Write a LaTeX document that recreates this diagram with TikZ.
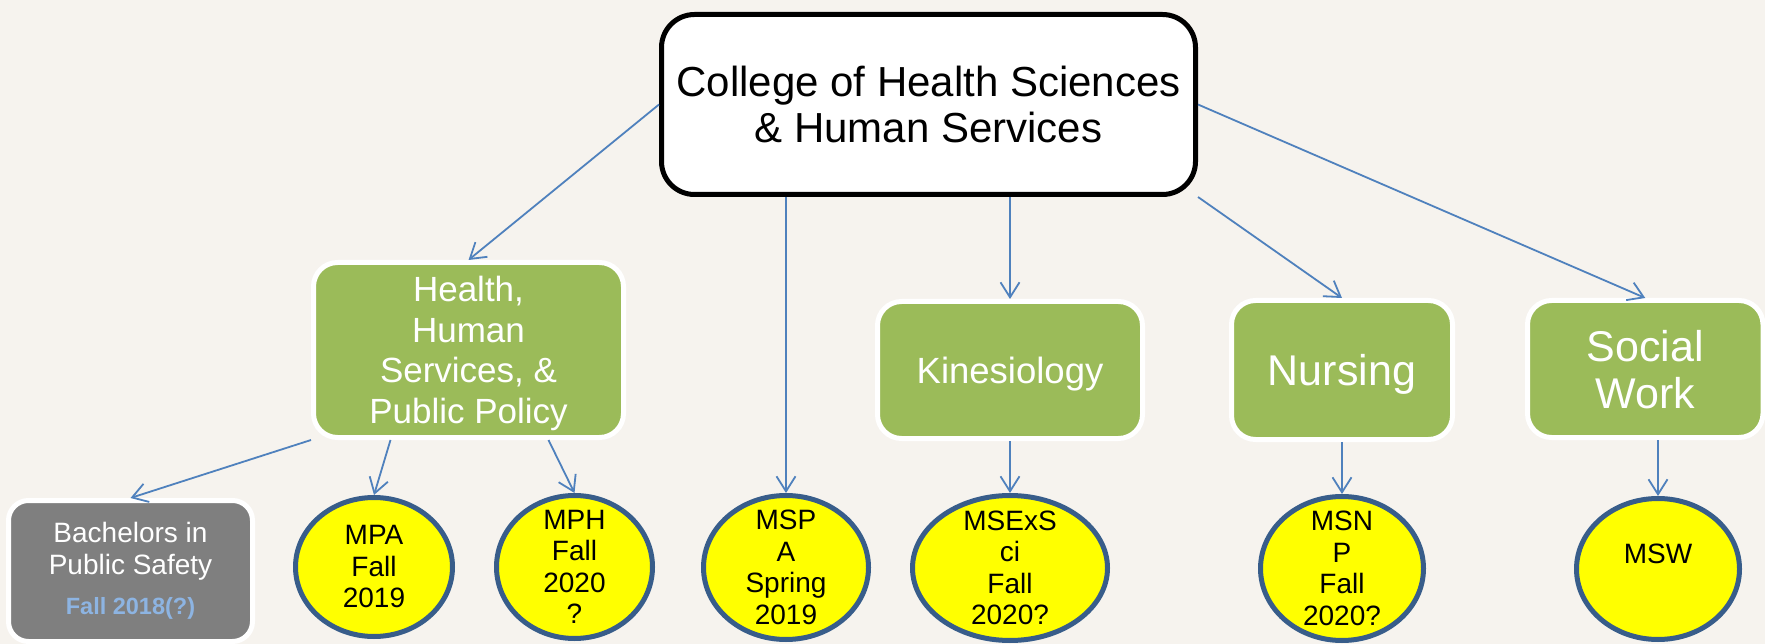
\documentclass[tikz,border=0pt]{standalone}
\usepackage{xcolor}
\usepackage{fontspec}
\setmainfont{Liberation Sans}
\usepackage{tikz}
\usetikzlibrary{arrows.meta}
\usetikzlibrary{shapes.geometric}

\definecolor{paper}{RGB}{246,243,238}
\definecolor{deptgreen}{RGB}{155,187,89}
\definecolor{arrowblue}{RGB}{79,129,189}
\definecolor{ringblue}{RGB}{56,93,138}
\definecolor{progyellow}{RGB}{255,255,0}
\definecolor{bachgray}{RGB}{127,127,127}
\definecolor{soonblue}{RGB}{141,180,226}

\begin{document}
\begin{tikzpicture}[x=1pt,y=-1pt,
    dept/.style={rectangle,rounded corners=24pt,draw=white,line width=5pt,fill=deptgreen,
        text=white,align=center,inner sep=0pt,text depth=0pt},
    degree/.style={ellipse,draw=ringblue,line width=5pt,fill=progyellow,align=center,
        inner sep=-25pt,font=\fontsize{28}{31.5}\selectfont},
    link/.style={draw=arrowblue,line width=1.8pt,-{Straight Barb[length=15pt,width=19pt]}}]
            \fill[paper] (0,0) rectangle (1765,644);
            \useasboundingbox (0,0) rectangle (1765,644);

            %%%% college and departments
            \node[rectangle,rounded corners=33pt,draw=black,fill=white,line width=5pt,align=center,
                minimum width=534pt,minimum height=180pt,inner sep=0pt,
                font=\fontsize{42}{46}\selectfont] (c) at (928.5,104.5) {College of Health Sciences\\\& Human Services};
            \node[dept,minimum width=310pt,minimum height=175pt,font=\fontsize{35}{40.5}\selectfont]
                (h) at (468.5,350) {Health,\\Human\\Services, \&\\Public Policy};
            \node[dept,minimum width=265pt,minimum height=137pt,font=\fontsize{36.5}{42}\selectfont]
                (k) at (1010,370) {Kinesiology};
            \node[dept,minimum width=221pt,minimum height=139pt,font=\fontsize{43}{47}\selectfont]
                (n) at (1342,370) {Nursing};
            \node[dept,minimum width=235.5pt,minimum height=137pt,font=\fontsize{43}{47}\selectfont]
                (s) at (1645.25,369) {Social\\Work};

            %%%% programs
            \node[rectangle,rounded corners=20pt,draw=white,line width=5pt,fill=bachgray,text=white,
                align=center,inner sep=0pt,minimum width=244pt,minimum height=141pt,
                font=\fontsize{28}{32}\selectfont] (b) at (130.5,571)
                {Bachelors in\\Public Safety\\[8pt]{\fontsize{23.5}{27}\selectfont\bfseries\color{soonblue}Fall 2018(?)}};
            \node[degree,minimum width=157pt,minimum height=139pt] (pa) at (374,567) {MPA\\Fall\\2019};
            \node[degree,minimum width=156pt,minimum height=143pt] (ph) at (574.5,567) {MPH\\Fall\\2020\\?};
            \node[degree,minimum width=165pt,minimum height=144pt] (sa) at (786,567.5) {MSP\\A\\Spring\\2019};
            \node[degree,minimum width=195pt,minimum height=145pt] (sx) at (1010,568) {MSExS\\ci\\Fall\\2020?};
            \node[degree,minimum width=163pt,minimum height=144pt] (np) at (1342,568.5) {MSN\\P\\Fall\\2020?};
            \node[degree,minimum width=163pt,minimum height=141pt] (sw) at (1658,569) {MSW\\\mbox{}};

            %%%% arrows
            \draw[link] (c.west) -- (h.north);
            \draw[link] (sa.north |- c.south) -- (sa.north);
            \draw[link] (k.north |- c.south) -- (k.north);
            \draw[link] (c.south east) -- (n.north);
            \draw[link] (c.east) -- (s.north);
            \draw[link] (h.south west) -- (b.north);
            \draw[link] ([xshift=-78pt]h.south) -- (pa.north);
            \draw[link] ([xshift=80pt]h.south) -- (ph.north);
            \draw[link] (k.south) -- (sx.north);
            \draw[link] (n.south) -- (np.north);
            \draw[link] (sw.north |- s.south) -- (sw.north);
        \end{tikzpicture}
\end{document}
